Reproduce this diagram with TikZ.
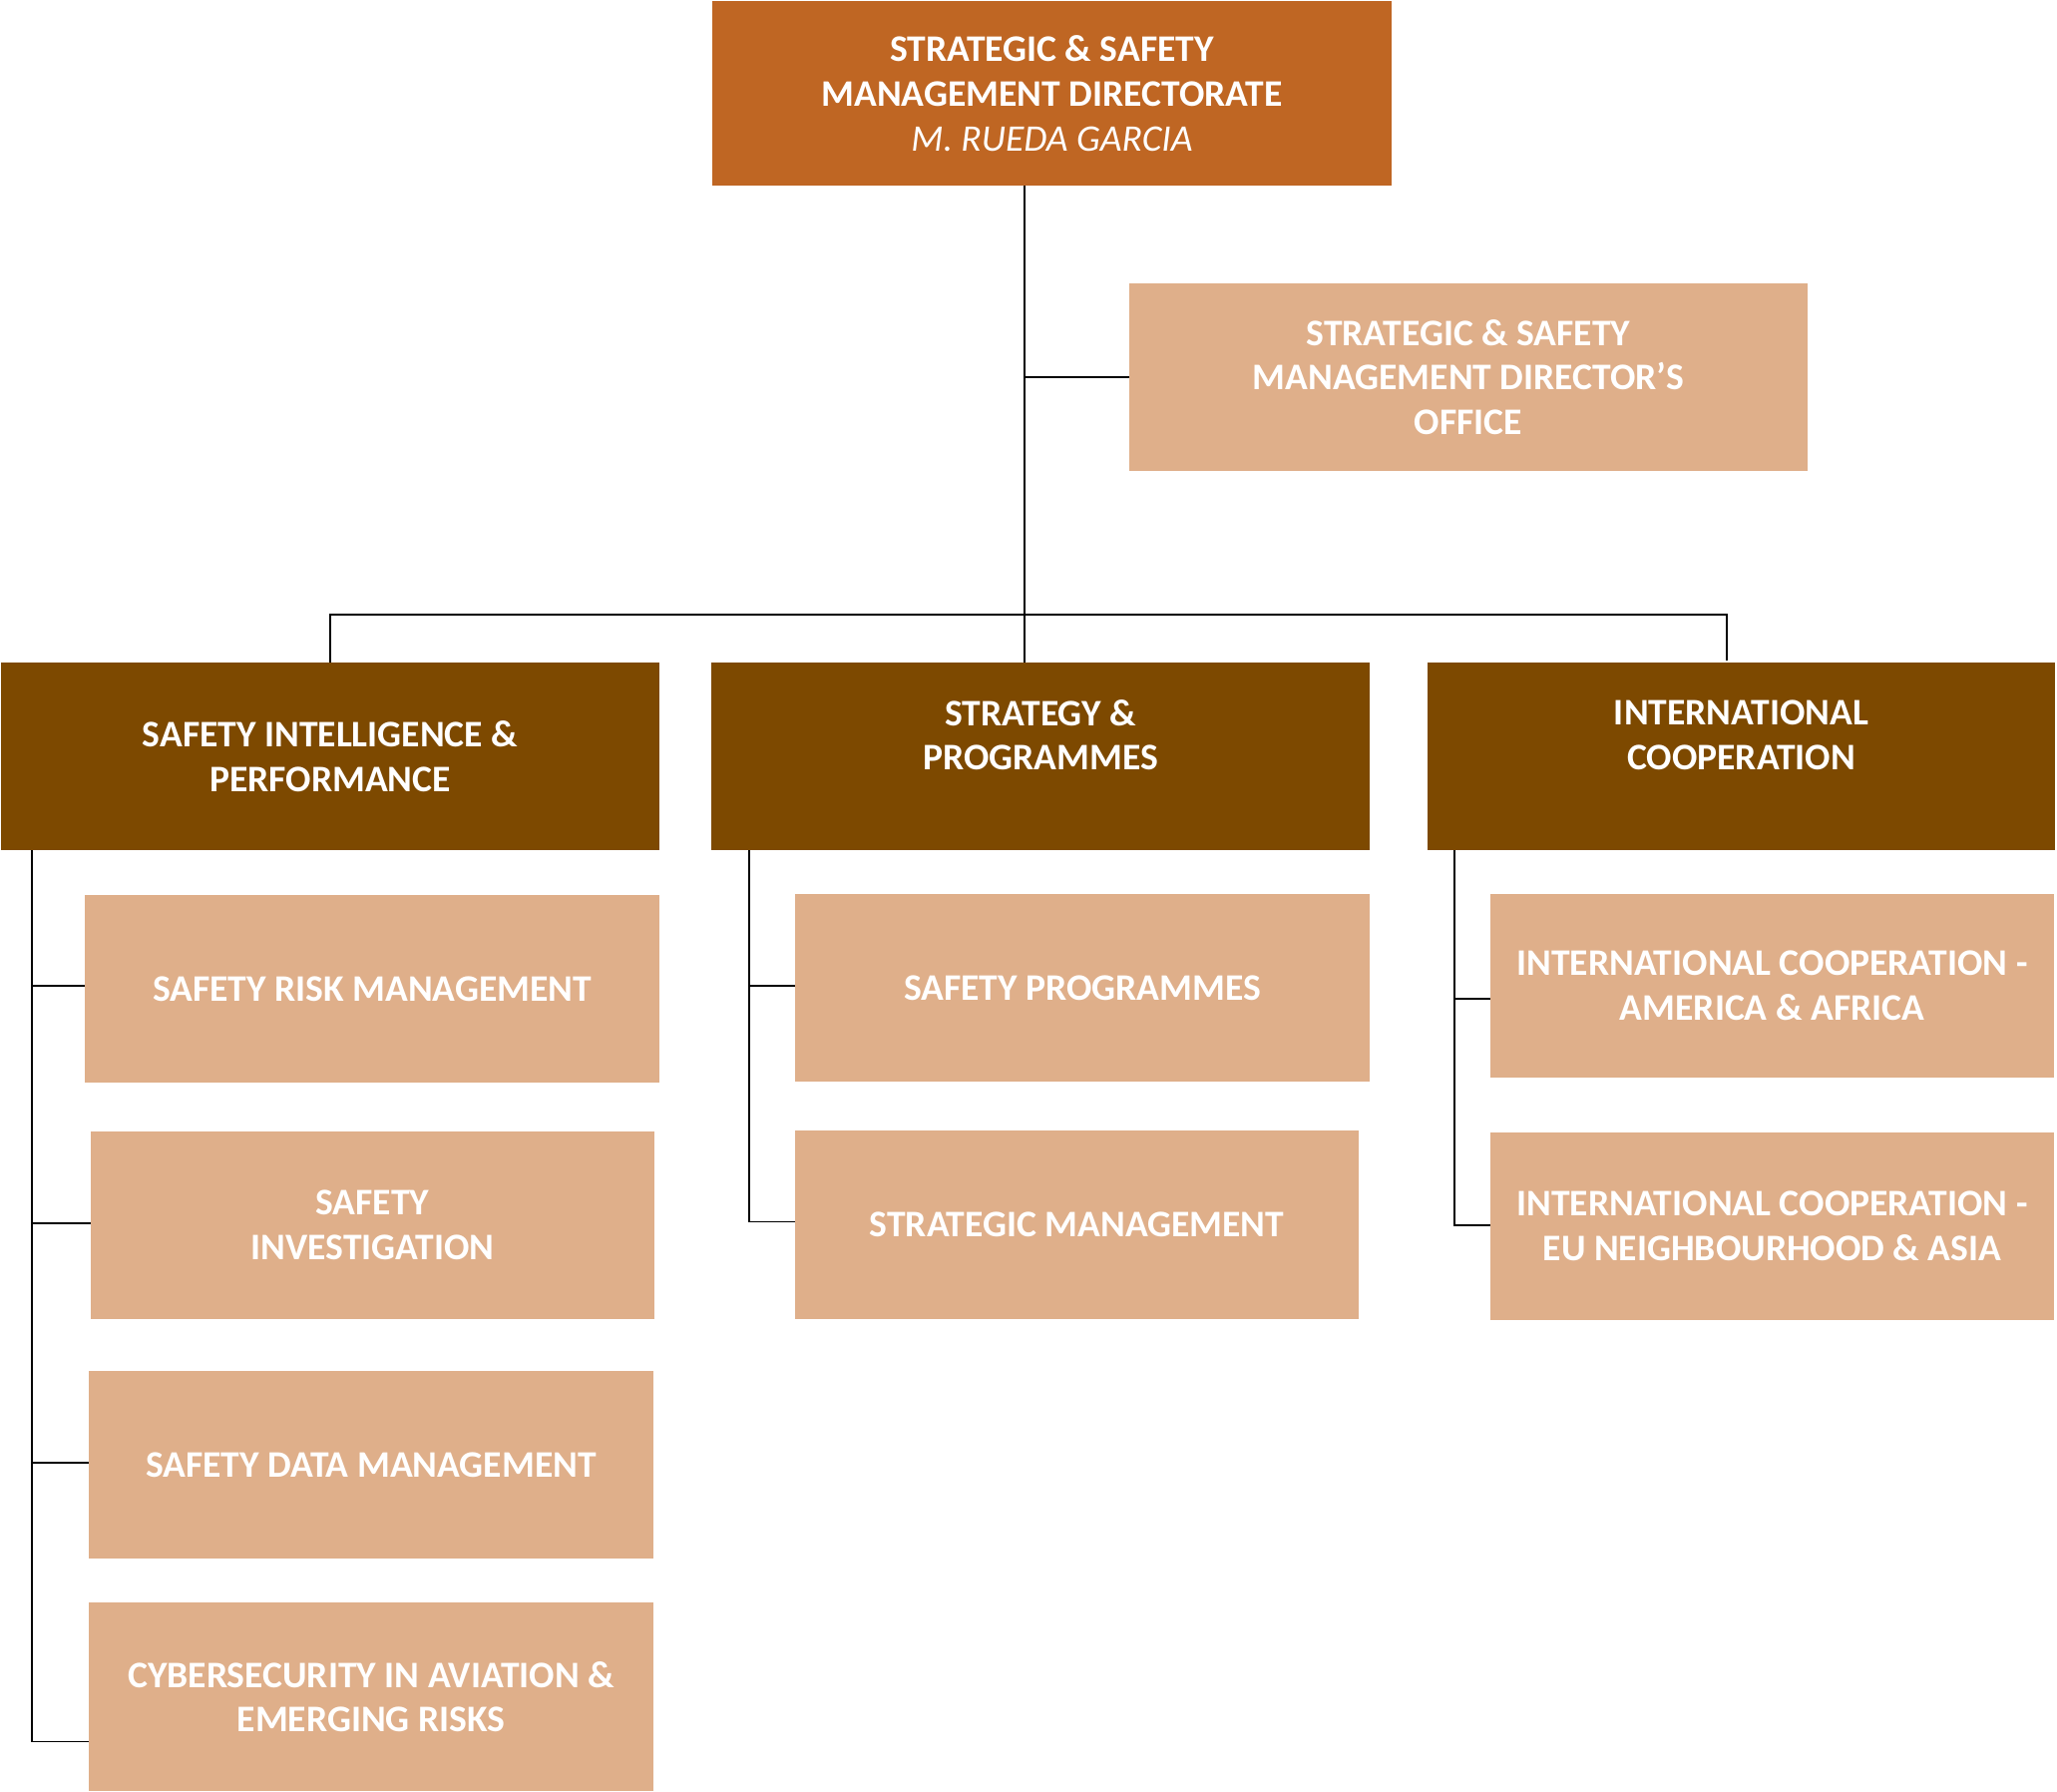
\documentclass[tikz,border=0pt]{standalone}
\usepackage{fontspec}
\setmainfont{Carlito}
\usetikzlibrary{calc}
\definecolor{topc}{RGB}{191,102,35}
\definecolor{darkc}{RGB}{125,73,0}
\definecolor{lightc}{RGB}{223,175,138}
\tikzset{
  box/.style={rectangle, inner sep=0pt, outer sep=0pt, text=white, align=center,
    font=\bfseries\fontsize{37.6}{44.7}\selectfont},
  topbox/.style={box, fill=topc},
  headbox/.style={box, fill=darkc},
  subbox/.style={box, fill=lightc},
  link/.style={draw=black, line width=1.6pt}
}
\begin{document}
\begin{tikzpicture}[x=1pt,y=-1pt]
\useasboundingbox (0,0) rectangle (2062,1796);
\fill[white] (0,0) rectangle (2062,1796);
% nodes
\node[topbox, minimum width=681, minimum height=185] (top) at (1054.5,93.5)
  {STRATEGIC \& SAFETY\\MANAGEMENT DIRECTORATE\\{\mdseries\itshape M. RUEDA GARCIA}};
\node[subbox, minimum width=680, minimum height=188] (office) at (1472,378)
  {STRATEGIC \& SAFETY\\MANAGEMENT DIRECTOR’S\\OFFICE};
\node[headbox, minimum width=660, minimum height=188] (sip) at (331,758)
  {SAFETY INTELLIGENCE \&\\PERFORMANCE};
\node[headbox, minimum width=660, minimum height=188] (spm) at (1043,758)
  {STRATEGY \&\\PROGRAMMES\\[-15pt]\strut};
\node[headbox, minimum width=629, minimum height=188] (ic) at (1745.5,758)
  {INTERNATIONAL\\COOPERATION\\[-15pt]\strut};
\node[subbox, minimum width=576, minimum height=188] (srm) at (373,991)
  {SAFETY RISK MANAGEMENT};
\node[subbox, minimum width=565, minimum height=188] (si) at (373.5,1228)
  {SAFETY\\INVESTIGATION};
\node[subbox, minimum width=566, minimum height=188] (sdm) at (372,1468)
  {SAFETY DATA MANAGEMENT};
\node[subbox, minimum width=566, minimum height=189] (cyber) at (372,1700.5)
  {CYBERSECURITY IN AVIATION \&\\EMERGING RISKS};
\node[subbox, minimum width=576, minimum height=188] (sp) at (1085,990)
  {SAFETY PROGRAMMES};
\node[subbox, minimum width=565, minimum height=189] (sm) at (1079.5,1227.5)
  {STRATEGIC MANAGEMENT};
\node[subbox, minimum width=565, minimum height=184] (ica) at (1776.5,988)
  {INTERNATIONAL COOPERATION -\\AMERICA \& AFRICA};
\node[subbox, minimum width=565, minimum height=188] (ice) at (1776.5,1229)
  {INTERNATIONAL COOPERATION -\\EU NEIGHBOURHOOD \& ASIA};
% coordinates
\coordinate (hbar) at (1027,616);
\coordinate (lspine) at ($(sip.south west)+(31,0)$);
\coordinate (mspine) at ($(spm.south west)+(38,0)$);
\coordinate (rspine) at ($(ic.south west)+(27,0)$);
% connectors
\draw[link] (top.south -| hbar) -- (spm.north -| hbar);
\draw[link] (office.west -| hbar) -- (office.west);
\draw[link] (sip.north) |- (hbar) -| ($(ic.north)+(-14.5,-2)$);
\draw[link] (lspine) |- ($(cyber.west)+(0,45)$);
\draw[link] (lspine) |- ($(srm.west)+(0,-3)$);
\draw[link] (lspine) |- ($(si.west)+(0,-2)$);
\draw[link] (lspine) |- ($(sdm.west)+(0,-2)$);
\draw[link] (mspine) |- ($(sp.west)+(0,-2)$);
\draw[link] (mspine) |- ($(sm.west)+(0,-3)$);
\draw[link] (rspine) |- ($(ica.west)+(0,13)$);
\draw[link] (rspine) |- ($(ice.west)+(0,-1)$);
\end{tikzpicture}
\end{document}
